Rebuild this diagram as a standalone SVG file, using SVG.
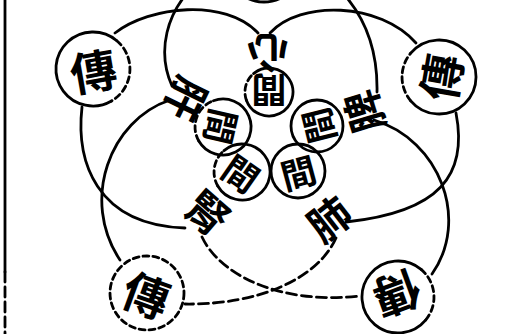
<svg xmlns="http://www.w3.org/2000/svg" width="518" height="334" viewBox="0 0 518 334">
<style>
.ln{fill:none;stroke:#000;stroke-width:2.8;stroke-linecap:round}
.ds{stroke-dasharray:10 5}
.cd{stroke-dasharray:6 4}
.t{font-family:"Noto Sans CJK TC","Noto Sans CJK SC",sans-serif;font-weight:700;fill:#000;text-anchor:middle;dominant-baseline:central}
.o{font-size:46px}
.i{font-size:35px}
.g{font-size:42px}
</style>
<rect width="518" height="334" fill="#fff"/>
<g id="border">
<path class="ln" d="M5,0 L5,272" stroke-width="3"/>
<path class="ln ds" d="M5,272 L5,334" stroke-width="3"/>
</g>
<g id="connectors">
<path class="ln" d="M115,33 C150,6 225,-2 258,33"/>
<path class="ln" d="M270,33 C300,0 380,2 416,43"/>
<path class="ln" d="M192,-12 C168,12 156,50 172,86"/>
<path class="ln" d="M338,-12 C362,12 378,45 377,92"/>
<path class="ln" d="M82,107 C76,160 95,225 185,228"/>
<path class="ln" d="M170,100 C110,120 80,200 120,260"/>
<path class="ln" d="M456,113 C468,175 440,212 346,222"/>
<path class="ln" d="M374,120 C440,140 470,220 432,274"/>
<path class="ln ds" d="M202,237 C220,275 280,305 360,296"/>
<path class="ln ds" d="M336,238 C318,278 260,305 185,304"/>
</g>
<g id="chuan-top">
<circle class="ln" cx="264" cy="-35" r="37"/>
</g>
<g id="chuan-ul">
<path class="ln" d="M111.5,101 A37,37 0 1 1 116.8,40.7"/>
<path class="ln cd" d="M116.8,40.7 A37,37 0 0 1 111.5,101"/>
<text class="t o" transform="translate(93,69) rotate(-10)">傳</text>
</g>
<g id="chuan-ur">
<path class="ln" d="M410.7,53.2 A37,37 0 1 1 410.7,100.8"/>
<path class="ln cd" d="M410.7,100.8 A37,37 0 0 1 410.7,53.2"/>
<text class="t o" transform="translate(439,77) rotate(-80)">傳</text>
</g>
<g id="chuan-ll">
<circle class="ln cd" cx="147" cy="293" r="37"/>
<text class="t o" transform="translate(147,293) rotate(20)">傳</text>
</g>
<g id="chuan-lr">
<path class="ln" d="M425.6,320.1 A36,36 0 1 1 421.1,269.4"/>
<path class="ln cd" d="M421.1,269.4 A36,36 0 0 1 425.6,320.1"/>
<text class="t o" transform="translate(398,296) rotate(160)">傳</text>
</g>
<g id="xin">
<text class="t g" transform="translate(268,55) rotate(180)">心</text>
</g>
<g id="gan">
<text class="t g" transform="translate(188,100) rotate(116)">肝</text>
</g>
<g id="pi">
<text class="t g" transform="translate(362,112) rotate(-107)">脾</text>
</g>
<g id="shen">
<text class="t g" transform="translate(209,211) rotate(41)">腎</text>
</g>
<g id="fei">
<text class="t g" transform="translate(328,217) rotate(-38)">肺</text>
</g>
<g id="jian-top">
<path class="ln" d="M253.6,73.6 A24,24 0 1 1 246.4,100.2"/>
<path class="ln cd" d="M246.4,100.2 A24,24 0 0 1 253.6,73.6"/>
<text class="t i" transform="translate(269,92) rotate(180)">間</text>
</g>
<g id="jian-ul">
<path class="ln" d="M213.4,100.7 A28,28 0 1 1 198.8,141"/>
<path class="ln cd" d="M198.8,141 A28,28 0 0 1 213.4,100.7"/>
<text class="t i" transform="translate(223,127) rotate(103)">間</text>
</g>
<g id="jian-ur">
<circle class="ln" cx="317" cy="126" r="26"/>
<text class="t i" transform="translate(317,126) rotate(-104)">間</text>
</g>
<g id="jian-ll">
<path class="ln" d="M224,150.6 A28,28 0 1 1 217.8,186"/>
<path class="ln cd" d="M217.8,186 A28,28 0 0 1 224,150.6"/>
<text class="t i" transform="translate(242,172) rotate(35)">間</text>
</g>
<g id="jian-lr">
<circle class="ln" cx="298" cy="171" r="27"/>
<text class="t i" transform="translate(298,171) rotate(-15)">間</text>
</g>
</svg>
